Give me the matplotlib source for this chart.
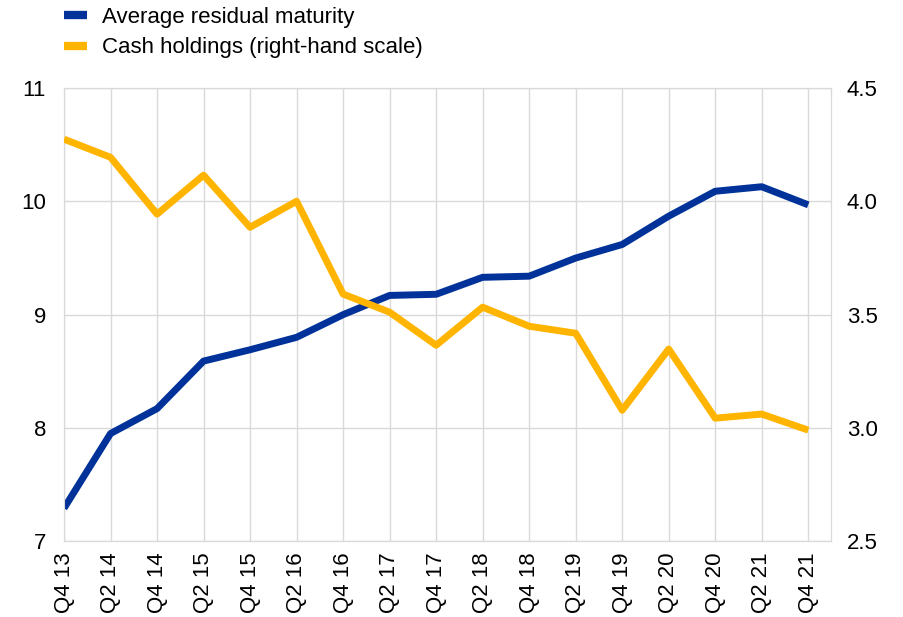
import matplotlib
matplotlib.use("Agg")
import matplotlib.pyplot as plt
from matplotlib.lines import Line2D

plt.rcParams['font.family'] = ['Liberation Sans', 'DejaVu Sans']

quarters = ["Q4 13", "Q2 14", "Q4 14", "Q2 15", "Q4 15", "Q2 16", "Q4 16", "Q2 17", "Q4 17",
            "Q2 18", "Q4 18", "Q2 19", "Q4 19", "Q2 20", "Q4 20", "Q2 21", "Q4 21"]
# average residual maturity (left-hand scale)
maturity = [7.29, 7.95, 8.17, 8.59, 8.69, 8.80, 9.00, 9.17, 9.18,
            9.33, 9.34, 9.50, 9.62, 9.87, 10.09, 10.13, 9.97]
# cash holdings (right-hand scale)
cash = [4.275, 4.195, 3.944, 4.116, 3.886, 4.001, 3.591, 3.511, 3.365,
        3.533, 3.449, 3.418, 3.078, 3.348, 3.043, 3.061, 2.99]

BLUE = "#003299"
YELLOW = "#ffb400"
GRID = "#d9d9d9"

fig = plt.figure(figsize=(9.04, 6.17), dpi=100)
ax = fig.add_axes([0.0708, 0.123, 0.849, 0.734])
ax2 = ax.twinx()

x = list(range(len(quarters)))
ax.plot(x, maturity, color=BLUE, lw=5, solid_capstyle="butt", zorder=3)
ax2.plot(x, cash, color=YELLOW, lw=5, solid_capstyle="butt", zorder=3)

ax.set_xlim(0, len(quarters) - 0.5)
ax.set_ylim(7, 11)
ax2.set_ylim(2.5, 4.5)
ax.set_yticks([7, 8, 9, 10, 11])
ax2.set_yticks([2.5, 3.0, 3.5, 4.0, 4.5])
ax2.set_yticklabels(["2.5", "3.0", "3.5", "4.0", "4.5"])
ax.set_xticks(x)
ax.set_xticklabels(quarters, rotation=90)

ax.grid(True, color=GRID, lw=1)
ax.set_axisbelow(True)
for a in (ax, ax2):
    for s in a.spines.values():
        s.set_color(GRID)
    a.tick_params(length=0, labelsize=16, colors="black")
ax.tick_params(axis="y", pad=13)
ax2.tick_params(axis="y", pad=11)
ax.tick_params(axis="x", pad=8)

handles = [Line2D([], [], color=BLUE, lw=6, solid_capstyle="butt"),
           Line2D([], [], color=YELLOW, lw=6, solid_capstyle="butt")]
fig.legend(handles, ["Average residual maturity", "Cash holdings (right-hand scale)"],
           loc="upper left", bbox_to_anchor=(64 / 904, 1 - 7 / 617), frameon=False, fontsize=16,
           handlelength=1.05, handletextpad=0.68, labelspacing=0.42, borderaxespad=0, borderpad=0)

fig.savefig("out.png", dpi=100)
